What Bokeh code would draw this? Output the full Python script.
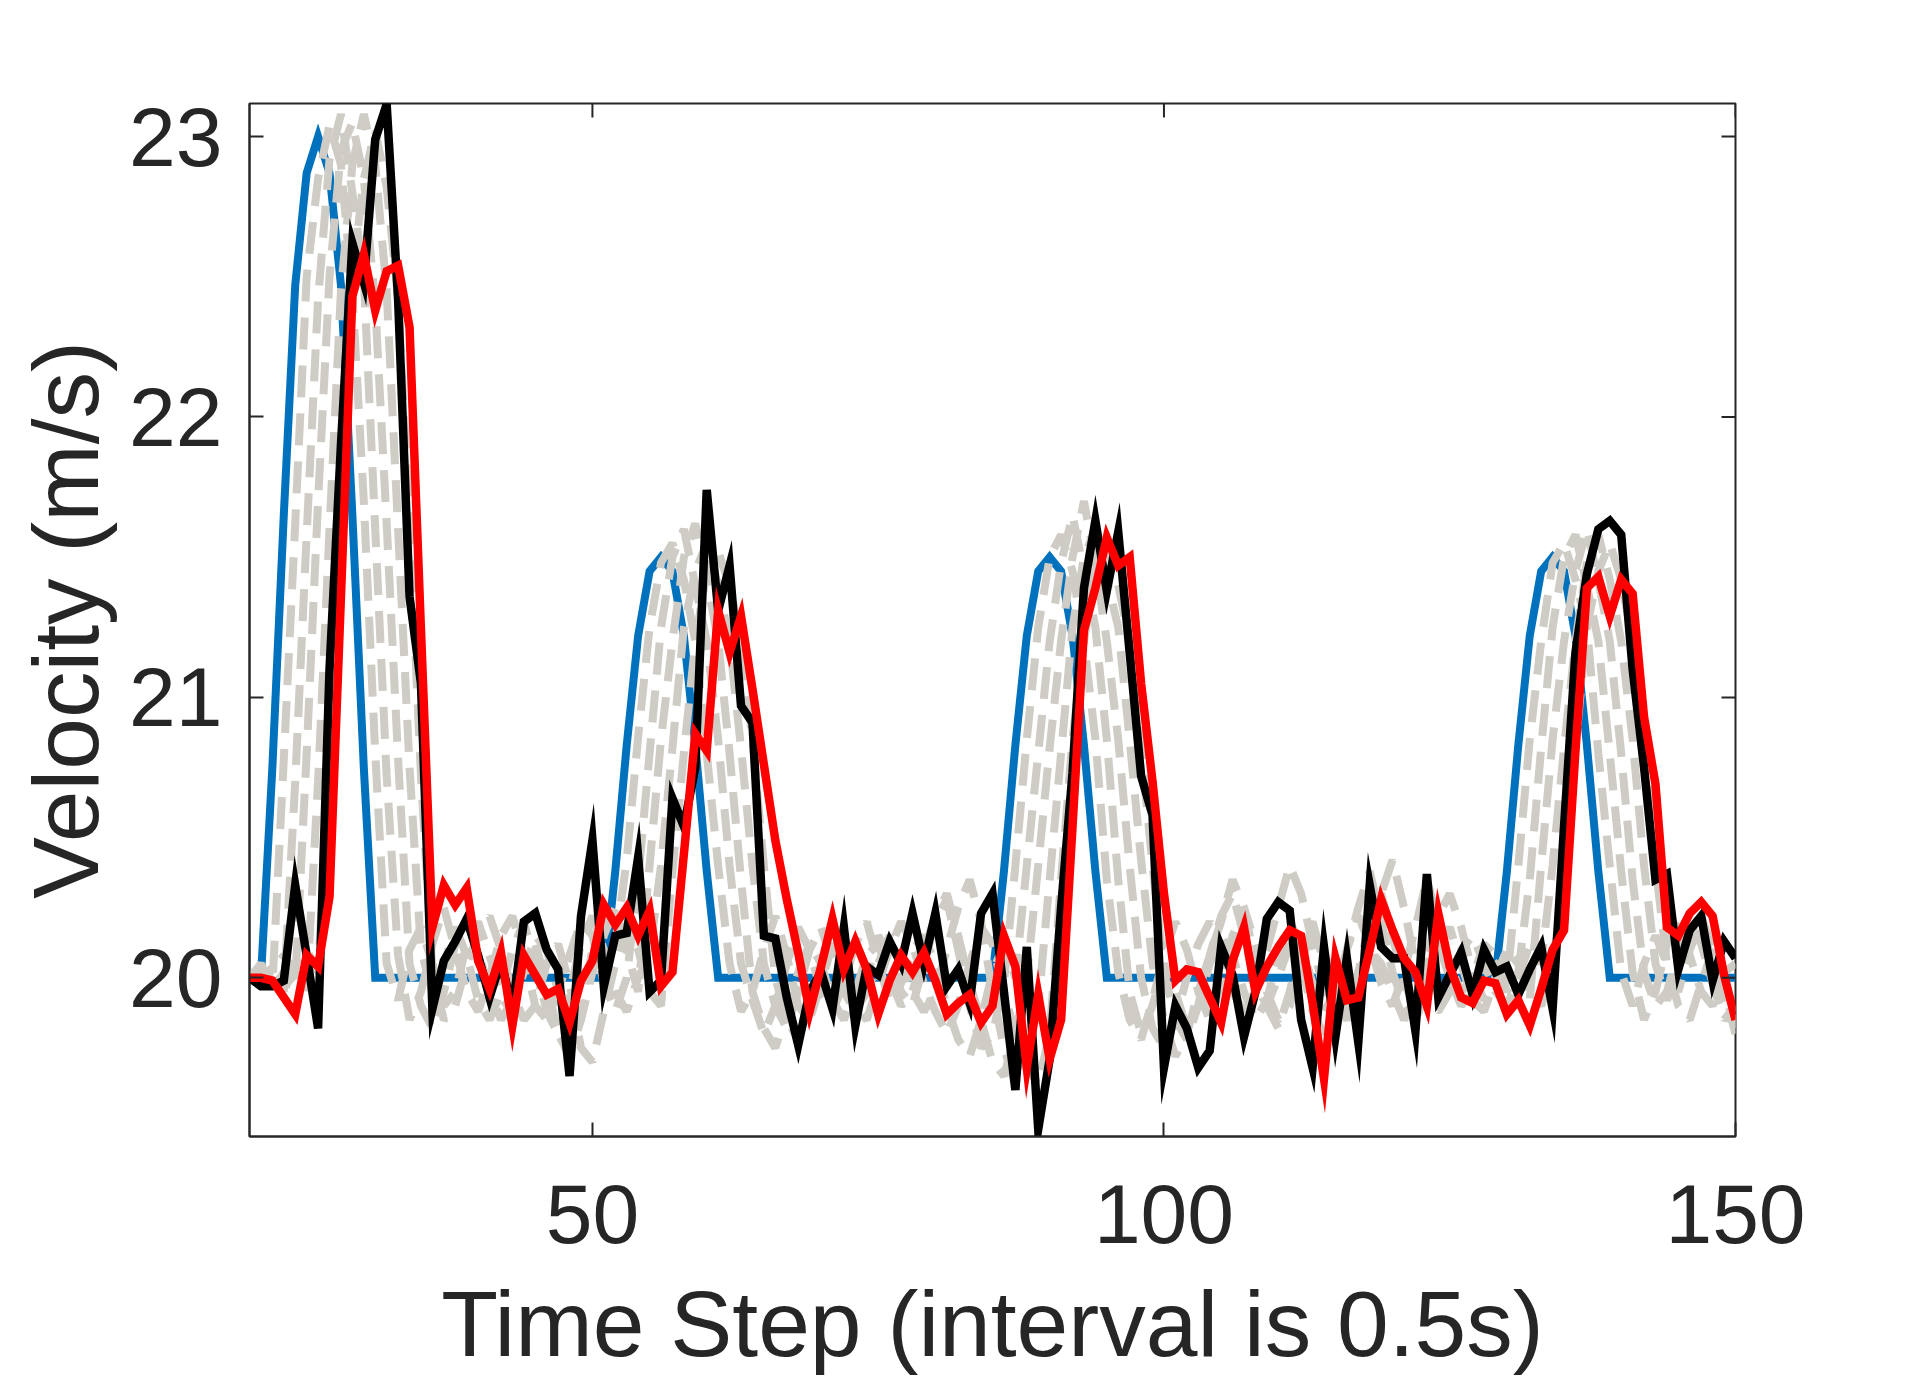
import math
from bokeh.plotting import figure
from bokeh.models import Range1d, FixedTicker
from bokeh.embed import file_html
from bokeh.resources import INLINE

# ---- data ----
time_step = list(range(20, 151))
x_ticks = [50, 100, 150]
y_ticks = [20, 21, 22, 23]
x_lim = (20, 150)
y_lim = (19.434, 23.118)
x_label = "Time Step (interval is 0.5s)"
y_label = "Velocity (m/s)"

true_velocity = [
    20.0, 20.0, 20.75, 21.65, 22.47, 22.87, 23.0, 22.87, 22.47, 21.65,   # 20-29
    20.75, 20.0, 20.0, 20.0, 20.0, 20.0, 20.0, 20.0, 20.0, 20.0,         # 30-39
    20.0, 20.0, 20.0, 20.0, 20.0, 20.0, 20.0, 20.0, 20.0, 20.0,          # 40-49
    20.0, 20.0, 20.38, 20.83, 21.22, 21.45, 21.5, 21.45, 21.22, 20.83,   # 50-59
    20.38, 20.0, 20.0, 20.0, 20.0, 20.0, 20.0, 20.0, 20.0, 20.0,         # 60-69
    20.0, 20.0, 20.0, 20.0, 20.0, 20.0, 20.0, 20.0, 20.0, 20.0,          # 70-79
    20.0, 20.0, 20.0, 20.0, 20.0, 20.0, 20.38, 20.83, 21.22, 21.45,      # 80-89
    21.5, 21.45, 21.22, 20.83, 20.38, 20.0, 20.0, 20.0, 20.0, 20.0,      # 90-99
    20.0, 20.0, 20.0, 20.0, 20.0, 20.0, 20.0, 20.0, 20.0, 20.0,          # 100-109
    20.0, 20.0, 20.0, 20.0, 20.0, 20.0, 20.0, 20.0, 20.0, 20.0,          # 110-119
    20.0, 20.0, 20.0, 20.0, 20.0, 20.0, 20.0, 20.0, 20.0, 20.0,          # 120-129
    20.38, 20.83, 21.22, 21.45, 21.5, 21.45, 21.22, 20.83, 20.38, 20.0,  # 130-139
    20.0, 20.0, 20.0, 20.0, 20.0, 20.0, 20.0, 20.0, 20.0, 20.0,          # 140-149
    20.0,                                                                # 150
]

sample_1 = [
    20.0, 20.03, 19.97, 20.78, 21.62, 22.5, 22.85, 23.04, 22.9, 22.44,
    21.7, 20.8, 20.05, 19.92, 20.1, 20.18, 20.05, 19.9, 19.95, 20.12,
    20.2, 20.08, 19.93, 19.88, 20.02, 20.15, 20.1, 19.95, 19.82, 19.9,
    20.1, 20.22, 20.12, 20.42, 20.86, 21.25, 21.48, 21.55, 21.42, 21.2,
    20.8, 20.4, 20.05, 19.88, 19.95, 20.1, 20.22, 20.08, 19.9, 19.85,
    19.98, 20.12, 20.05, 19.92, 20.0, 20.15, 20.08, 19.95, 19.9, 20.05,
    20.2, 20.28, 20.1, 19.9, 19.75, 19.8, 19.98, 20.4, 20.85, 21.25,
    21.5, 21.58, 21.45, 21.2, 20.85, 20.35, 20.02, 19.85, 19.78, 19.92,
    20.08, 20.2, 20.1, 19.95, 19.85, 19.98, 20.15, 20.25, 20.12, 19.95,
    19.85, 19.9, 20.05, 20.18, 20.1, 19.95, 19.88, 20.02, 20.2, 20.3,
    20.15, 19.98, 19.9, 20.05, 20.12, 20.0, 19.9, 19.95, 20.1, 20.05,
    19.98, 20.4, 20.85, 21.2, 21.48, 21.55, 21.42, 21.25, 20.8, 20.4,
    20.02, 19.9, 20.05, 20.15, 20.05, 19.95, 20.1, 20.2, 20.05, 19.9,
    19.85,
]
sample_2 = [
    20.0, 19.98, 20.04, 19.95, 20.7, 21.58, 22.42, 22.92, 23.08, 22.8,
    22.5, 21.6, 20.72, 20.08, 19.85, 19.95, 20.12, 20.25, 20.1, 19.95,
    19.88, 20.0, 20.15, 20.22, 20.08, 19.9, 19.85, 19.95, 20.08, 20.2,
    20.15, 19.98, 19.88, 20.0, 20.35, 20.8, 21.25, 21.5, 21.6, 21.4,
    21.2, 20.85, 20.4, 20.05, 19.92, 19.8, 19.9, 20.05, 20.18, 20.1,
    19.95, 19.88, 19.98, 20.12, 20.2, 20.05, 19.92, 19.98, 20.1, 20.15,
    20.05, 19.9, 19.78, 19.72, 19.85, 20.02, 20.12, 20.0, 20.4, 20.8,
    21.2, 21.48, 21.65, 21.45, 21.25, 20.85, 20.35, 19.95, 19.8, 19.9,
    20.05, 19.95, 19.82, 19.9, 20.08, 20.22, 20.3, 20.15, 19.98, 19.9,
    20.0, 20.12, 20.05, 19.88, 19.8, 19.92, 20.1, 20.22, 20.12, 19.98,
    19.9, 20.02, 20.18, 20.35, 20.2, 20.05, 19.95, 20.0, 20.12, 20.08,
    19.95, 20.02, 20.35, 20.82, 21.25, 21.5, 21.58, 21.4, 21.2, 20.8,
    20.38, 20.02, 19.85, 19.95, 20.12, 20.2, 20.08, 19.95, 19.9, 20.02,
    20.05,
]
sample_3 = [
    20.0, 20.05, 19.96, 20.02, 19.98, 20.8, 21.7, 22.5, 22.95, 23.05,
    22.85, 22.4, 21.62, 20.78, 20.05, 19.9, 19.82, 19.95, 20.12, 20.2,
    20.1, 19.95, 19.85, 19.92, 20.05, 20.12, 19.98, 19.8, 19.72, 19.85,
    20.02, 20.15, 20.25, 20.1, 19.95, 20.4, 20.85, 21.2, 21.5, 21.62,
    21.42, 21.2, 20.8, 20.35, 19.95, 19.82, 19.75, 19.88, 20.02, 20.12,
    20.05, 19.92, 19.85, 19.95, 20.08, 20.12, 20.0, 19.9, 19.95, 20.1,
    20.22, 20.3, 20.15, 19.98, 19.85, 19.7, 19.65, 19.8, 20.0, 20.4,
    20.82, 21.2, 21.5, 21.7, 21.48, 21.2, 20.85, 20.4, 20.0, 19.82,
    19.75, 19.85, 20.0, 20.12, 20.2, 20.1, 19.95, 19.88, 19.95, 20.1,
    20.25, 20.4, 20.3, 20.12, 19.95, 19.85, 19.9, 20.02, 20.1, 20.05,
    19.95, 19.85, 19.92, 20.08, 20.22, 20.3, 20.18, 20.02, 19.92, 20.0,
    20.1, 20.05, 19.92, 20.4, 20.85, 21.2, 21.45, 21.6, 21.42, 21.2,
    20.8, 20.35, 20.02, 19.9, 19.95, 20.1, 20.2, 20.12, 19.98, 19.85,
    19.9,
]
sample_4 = [
    20.0, 19.97, 20.03, 20.08, 20.02, 19.95, 20.7, 21.6, 22.45, 22.9,
    23.08, 22.9, 22.45, 21.6, 20.75, 20.1, 19.95, 20.05, 20.18, 20.08,
    19.92, 19.85, 19.95, 20.1, 20.2, 20.05, 19.88, 19.8, 19.95, 20.12,
    20.22, 20.1, 19.95, 19.88, 20.0, 20.08, 20.4, 20.82, 21.25, 21.45,
    21.55, 21.4, 21.2, 20.82, 20.4, 20.05, 19.9, 19.82, 19.95, 20.1,
    20.18, 20.05, 19.95, 19.88, 19.95, 20.05, 20.15, 20.08, 19.95, 19.88,
    19.95, 20.1, 20.25, 20.35, 20.2, 19.95, 19.75, 19.62, 19.7, 19.9,
    20.35, 20.8, 21.25, 21.5, 21.6, 21.42, 21.25, 20.85, 20.42, 20.05,
    19.85, 19.72, 19.8, 19.95, 20.08, 20.2, 20.35, 20.25, 20.05, 19.9,
    19.82, 19.95, 20.12, 20.2, 20.05, 19.92, 19.85, 19.95, 20.15, 20.3,
    20.42, 20.25, 20.05, 19.92, 19.88, 19.95, 20.1, 20.15, 20.05, 19.95,
    19.9, 20.0, 20.12, 20.05, 20.4, 20.82, 21.2, 21.48, 21.58, 21.42,
    21.2, 20.85, 20.4, 20.05, 19.92, 20.02, 20.15, 20.22, 20.1, 19.95,
    19.82,
]
sample_5 = [
    20.0, 20.02, 19.98, 19.95, 20.05, 20.1, 20.02, 20.78, 21.68, 22.5,
    22.85, 23.02, 22.82, 22.42, 21.62, 20.72, 20.02, 19.85, 19.9, 20.05,
    20.15, 20.22, 20.1, 19.95, 19.85, 19.9, 20.05, 20.12, 19.98, 19.75,
    19.7, 19.88, 20.05, 20.18, 20.1, 19.95, 19.9, 20.38, 20.8, 21.2,
    21.45, 21.52, 21.4, 21.2, 20.85, 20.4, 20.0, 19.85, 19.78, 19.9,
    20.05, 20.12, 20.02, 19.9, 19.85, 19.98, 20.1, 20.2, 20.12, 19.98,
    19.88, 19.8, 19.9, 20.05, 20.18, 20.12, 19.95, 19.8, 19.68, 19.62,
    19.8, 20.35, 20.85, 21.2, 21.45, 21.55, 21.4, 21.2, 20.82, 20.4,
    20.02, 19.85, 19.78, 19.9, 20.05, 20.15, 20.08, 19.95, 19.85, 19.92,
    20.08, 20.2, 20.12, 19.98, 19.88, 19.95, 20.1, 20.25, 20.38, 20.2,
    20.02, 19.9, 19.85, 19.95, 20.1, 20.18, 20.05, 19.92, 19.88, 20.0,
    20.1, 20.05, 19.95, 19.9, 20.02, 20.38, 20.82, 21.25, 21.45, 21.55,
    21.42, 21.2, 20.85, 20.4, 20.05, 19.9, 19.85, 19.98, 20.1, 19.95,
    19.8,
]

measured = [
    20.0, 19.97, 19.97, 19.99, 20.33, 20.08, 19.82, 21.1, 21.9, 22.62,     # 20-29
    22.48, 22.99, 23.115, 22.42, 21.36, 21.05, 19.89, 20.06, 20.13, 20.21, # 30-39
    20.08, 19.93, 20.06, 19.89, 20.2, 20.23, 20.1, 20.03, 19.65, 20.22,    # 40-49
    20.49, 19.97, 20.15, 20.16, 20.43, 19.95, 19.99, 20.64, 20.54, 20.75,  # 50-59
    21.74, 21.31, 21.47, 20.97, 20.91, 20.15, 20.14, 19.93, 19.76, 19.95,  # 60-69
    20.02, 19.89, 20.18, 19.83, 20.04, 20.01, 20.13, 20.05, 20.23, 20.05,  # 70-79
    20.23, 19.97, 20.03, 19.91, 20.23, 20.3, 19.95, 19.6, 20.11, 19.46,    # 80-89
    19.71, 20.25, 20.73, 21.39, 21.63, 21.38, 21.59, 21.16, 20.72, 20.58,  # 90-99
    19.68, 19.9, 19.82, 19.68, 19.74, 20.11, 20.01, 19.79, 19.95, 20.21,   # 100-109
    20.27, 20.24, 19.85, 19.68, 20.11, 19.79, 20.07, 19.77, 20.33, 20.11,  # 110-119
    20.07, 20.07, 19.81, 20.37, 19.93, 20.01, 20.09, 19.94, 20.1, 20.02,   # 120-129
    20.04, 19.94, 20.03, 20.11, 19.89, 20.54, 21.16, 21.44, 21.6, 21.63,   # 130-139
    21.58, 21.1, 20.75, 20.35, 20.37, 20.03, 20.17, 20.22, 19.99, 20.13,   # 140-149
    20.07,                                                                 # 150
]

estimated = [
    20.0, 20.0, 19.99, 19.93, 19.87, 20.08, 20.04, 20.29, 21.36, 22.43,    # 20-29
    22.58, 22.38, 22.52, 22.54, 22.32, 21.24, 20.18, 20.33, 20.26, 20.32,  # 30-39
    20.06, 19.96, 20.09, 19.83, 20.08, 20.01, 19.94, 19.96, 19.84, 19.99,  # 40-49
    20.06, 20.26, 20.19, 20.25, 20.15, 20.24, 19.97, 20.02, 20.44, 20.87,  # 50-59
    20.81, 21.31, 21.16, 21.29, 21.03, 20.76, 20.49, 20.28, 20.09, 19.88,  # 60-69
    20.04, 20.21, 20.03, 20.13, 20.03, 19.87, 19.99, 20.08, 20.02, 20.09,  # 70-79
    19.99, 19.87, 19.91, 19.94, 19.84, 19.9, 20.15, 20.04, 19.68, 19.94,   # 80-89
    19.71, 19.85, 20.54, 21.24, 21.39, 21.57, 21.47, 21.5, 21.05, 20.7,    # 90-99
    20.3, 19.99, 20.03, 20.02, 19.93, 19.84, 20.06, 20.18, 19.95, 20.04,   # 100-109
    20.11, 20.17, 20.15, 19.91, 19.64, 20.07, 19.92, 19.93, 20.1, 20.28,   # 110-119
    20.17, 20.07, 20.02, 19.9, 20.23, 20.04, 19.93, 19.91, 19.99, 19.98,   # 120-129
    19.87, 19.92, 19.83, 19.96, 20.1, 20.17, 20.81, 21.39, 21.43, 21.29,   # 130-139
    21.42, 21.37, 20.93, 20.69, 20.18, 20.15, 20.23, 20.27, 20.22, 20.01,  # 140-149
    19.85,                                                                 # 150
]

samples = [sample_1, sample_2, sample_3, sample_4, sample_5]
for s in samples + [true_velocity, measured, estimated]:
    assert len(s) == len(time_step), len(s)

# ---- figure ----
INK = "#262626"
FONT = "Liberation Sans"

p = figure(width=1900, height=1378, output_backend="svg", toolbar_location=None,
           x_range=Range1d(*x_lim), y_range=Range1d(*y_lim),
           min_border_left=249, min_border_right=165,
           min_border_top=103, min_border_bottom=240,
           background_fill_color="white", border_fill_color="white")
p.grid.visible = False
p.outline_line_color = INK
p.outline_line_width = 2

for ax, ticks in ((p.xaxis[0], x_ticks), (p.yaxis[0], y_ticks)):
    ax.ticker = FixedTicker(ticks=ticks)
    ax.minor_tick_line_color = None
    ax.major_tick_in = 14
    ax.major_tick_out = 0
    ax.major_tick_line_color = INK
    ax.major_tick_line_width = 2
    ax.axis_line_color = INK
    ax.axis_line_width = 2
    ax.major_label_text_font = FONT
    ax.major_label_text_font_size = "84px"
    ax.major_label_text_color = INK
    ax.axis_label_text_font = FONT
    ax.axis_label_text_font_size = "93px"
    ax.axis_label_text_font_style = "normal"
    ax.axis_label_text_color = INK

p.xaxis.axis_label = x_label
p.yaxis.axis_label = y_label
p.xaxis.major_label_standoff = 48
p.xaxis.axis_label_standoff = 26
p.yaxis.major_label_standoff = 27
p.yaxis.axis_label_standoff = 8

# draw order: reference, samples, measured, estimate
p.line(time_step, true_velocity, line_color="#0072BD", line_width=8, line_join="miter")
for s in samples:
    p.line(time_step, s, line_color="#CFCBC5", line_width=8, line_dash="32 16")
p.line(time_step, measured, line_color="#000000", line_width=8.5, line_join="miter")
p.line(time_step, estimated, line_color="#FF0000", line_width=8.5, line_join="miter")

# inward ticks on the top and right edges of the box (clipped to the frame)
p.scatter(x=x_ticks, y=[y_lim[1]] * len(x_ticks), marker="dash", size=28,
          angle=math.pi / 2, line_color=INK, line_width=2)
p.scatter(x=[x_lim[1]] * len(y_ticks), y=y_ticks, marker="dash", size=28,
          line_color=INK, line_width=2)

open("out.html", "w").write(file_html(p, INLINE))
